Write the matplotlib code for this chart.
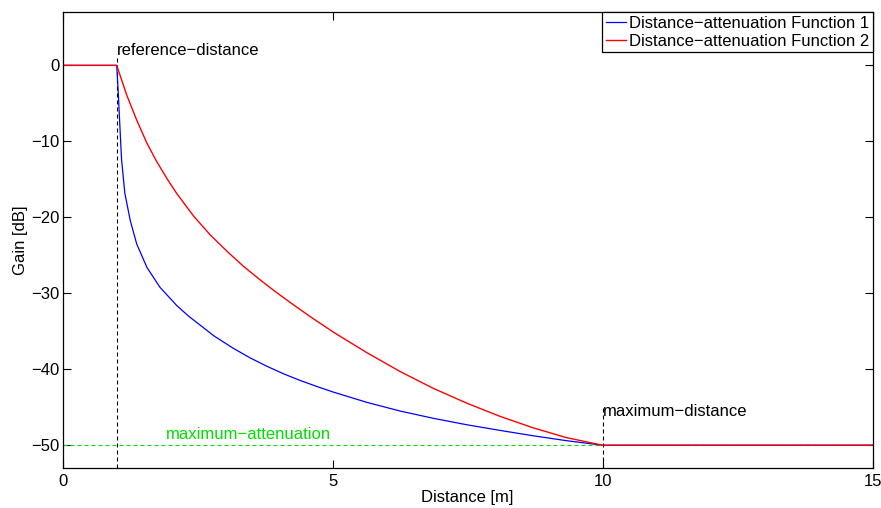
import matplotlib
matplotlib.use("Agg")
import matplotlib.pyplot as plt

plt.rcParams['font.family'] = ['Liberation Sans', 'DejaVu Sans']
plt.rcParams['font.size'] = 12

# distance [m] and gain [dB]
dist_1 = [0, 1.0, 1.03, 1.06, 1.09, 1.15, 1.25, 1.37, 1.56, 1.80, 2.11, 2.33, 2.8,
          3.15, 3.47, 3.78, 4.09, 4.39, 4.70, 5.01, 5.63, 6.25, 6.86, 7.48, 8.10,
          8.71, 9.33, 10.0, 15]
gain_1 = [0, 0, -3.8, -8.2, -12.4, -16.8, -20.4, -23.5, -26.6, -29.2, -31.6, -33.0, -35.6,
          -37.2, -38.5, -39.6, -40.6, -41.45, -42.25, -43.0, -44.35, -45.5, -46.45, -47.3, -48.05,
          -48.75, -49.4, -50, -50]

dist_2 = [0, 1.0, 1.185, 1.37, 1.56, 1.74, 1.93, 2.11, 2.42, 2.73, 3.04, 3.34, 3.65,
          3.96, 4.27, 4.58, 5.01, 5.63, 6.25, 6.86, 7.48, 8.10, 8.71, 9.33, 10.0, 15]
gain_2 = [0, 0, -3.9, -7.2, -10.25, -12.65, -14.9, -16.85, -19.8, -22.3, -24.45, -26.4, -28.2,
          -29.9, -31.5, -33.05, -35.1, -37.8, -40.3, -42.5, -44.45, -46.2, -47.7, -49.0, -50, -50]

ref_dist = 1
max_dist = 10
max_att = -50

green = '#00e000'
dash = (0, (3.6, 2.7))

fig = plt.figure(figsize=(8.81, 5.08), dpi=100)
ax = fig.add_axes([0.0712, 0.0787, 0.9192, 0.8973])

ax.plot([0, 15], [max_att, max_att], color=green, lw=0.8, linestyle=dash)
ax.plot([ref_dist, ref_dist], [-53, 1], color='k', lw=0.8, linestyle=dash)
ax.plot([max_dist, max_dist], [-53, -44.7], color='k', lw=0.8, linestyle=dash)

ax.plot(dist_1, gain_1, color='b', lw=0.9, label='Distance\u2212attenuation Function 1')
ax.plot(dist_2, gain_2, color='r', lw=1.0, label='Distance\u2212attenuation Function 2')

ax.text(ref_dist, 1.9, 'reference\u2212distance', va='center', ha='left')
ax.text(max_dist, -45.5, 'maximum\u2212distance', va='center', ha='left')
ax.text(1.92, -48.6, 'maximum\u2212attenuation', va='center', ha='left', color=green)

ax.set_xlim(0, 15)
ax.set_ylim(-53, 7)
ax.set_xticks([0, 5, 10, 15])
ax.set_yticks([-50, -40, -30, -20, -10, 0])
ax.tick_params(direction='in', top=True, right=True, length=6, width=0.8)
ax.tick_params(axis='y', pad=2.5)
ax.tick_params(axis='x', pad=4)
for s in ax.spines.values():
    s.set_linewidth(0.9)

ax.set_xlabel('Distance [m]', labelpad=1)
ax.set_ylabel('Gain [dB]', labelpad=2)

leg = ax.legend(loc='upper right', borderaxespad=0, fancybox=False, framealpha=1,
                edgecolor='k', handlelength=1.2, handletextpad=0.2,
                borderpad=0.2, labelspacing=0.18)
leg.get_frame().set_linewidth(0.9)

fig.savefig('out.png', dpi=100)
